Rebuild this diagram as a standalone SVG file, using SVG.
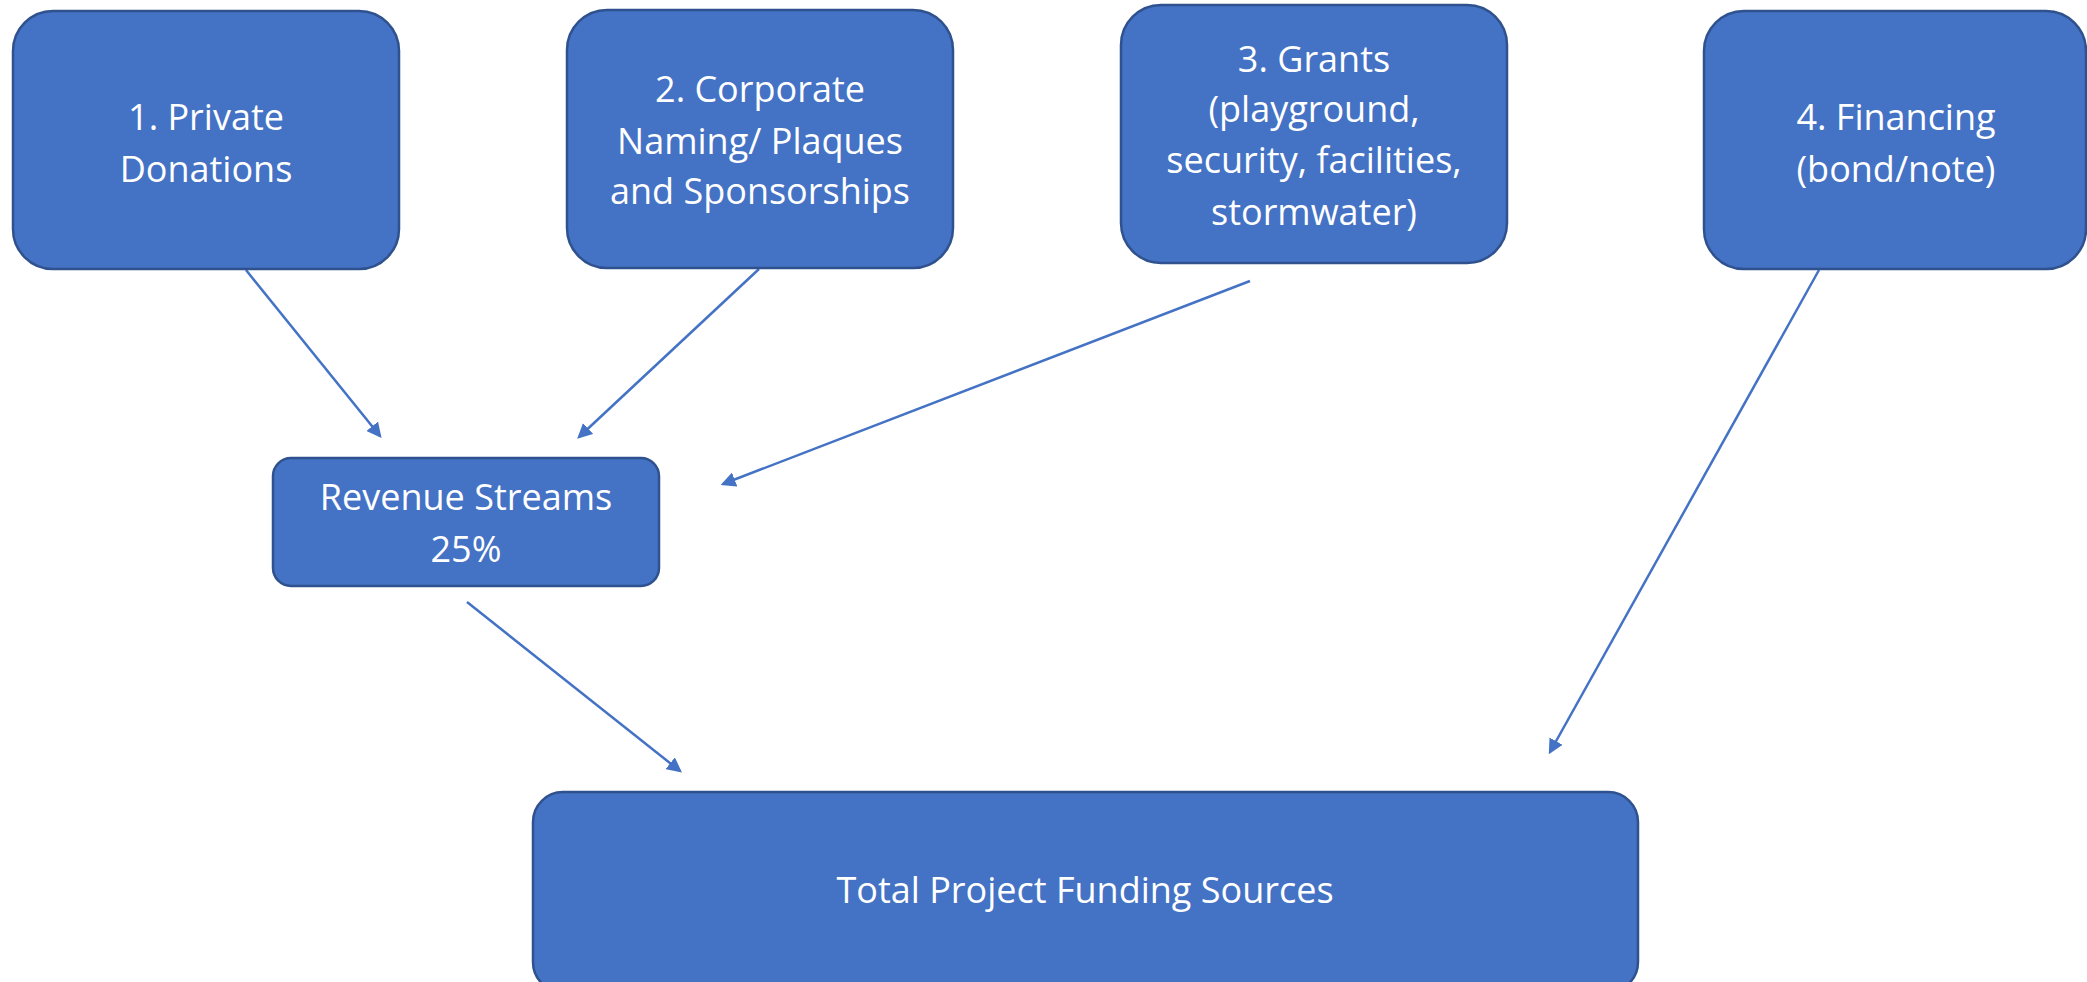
<svg xmlns="http://www.w3.org/2000/svg" width="2087" height="982" viewBox="0 0 2087 982">
<style>
.box{fill:#4472C4;stroke:#2F528F;stroke-width:2.5}
.t{font-family:"Open Sans","Liberation Sans",sans-serif;font-size:36px;fill:#FFFFFF;text-anchor:middle}
.c{stroke:#4472C4;stroke-width:2.5;fill:none;marker-end:url(#ah)}
</style>
<defs>
<marker id="ah" markerWidth="6" markerHeight="6" refX="5" refY="3" orient="auto" markerUnits="strokeWidth">
<path d="M0,0 L6,3 L0,6 Z" fill="#4472C4"/>
</marker>
</defs>
<rect width="2087" height="982" fill="#FFFFFF"/>
<g id="connectors">
<line class="c" x1="246" y1="270" x2="380" y2="436"/>
<line class="c" x1="759" y1="269" x2="579" y2="437"/>
<line class="c" x1="1250" y1="281" x2="723" y2="484"/>
<line class="c" x1="1819" y1="270" x2="1550" y2="752"/>
<line class="c" x1="467" y1="602" x2="680" y2="771"/>
</g>
<g id="n1">
<rect class="box" x="13" y="11" width="386" height="258" rx="40"/>
<text class="t" x="206" y="130">1. Private</text>
<text class="t" x="206" y="182">Donations</text>
</g>
<g id="n2">
<rect class="box" x="567" y="10" width="386" height="258" rx="40"/>
<text class="t" x="760" y="102">2. Corporate</text>
<text class="t" x="760" y="154">Naming/ Plaques</text>
<text class="t" x="760" y="204">and Sponsorships</text>
</g>
<g id="n3">
<rect class="box" x="1121" y="5" width="386" height="258" rx="40"/>
<text class="t" x="1314" y="72">3. Grants</text>
<text class="t" x="1314" y="122">(playground,</text>
<text class="t" x="1314" y="173">security, facilities,</text>
<text class="t" x="1314" y="225">stormwater)</text>
</g>
<g id="n4">
<rect class="box" x="1704" y="11" width="382" height="258" rx="40"/>
<text class="t" x="1896" y="130">4. Financing</text>
<text class="t" x="1896" y="182">(bond/note)</text>
</g>
<g id="n5">
<rect class="box" x="273" y="458" width="386" height="128" rx="18"/>
<text class="t" x="466" y="510">Revenue Streams</text>
<text class="t" x="466" y="562">25%</text>
</g>
<g id="n6">
<rect class="box" x="533" y="792" width="1105" height="200" rx="30"/>
<text class="t" x="1085" y="903">Total Project Funding Sources</text>
</g>
</svg>
